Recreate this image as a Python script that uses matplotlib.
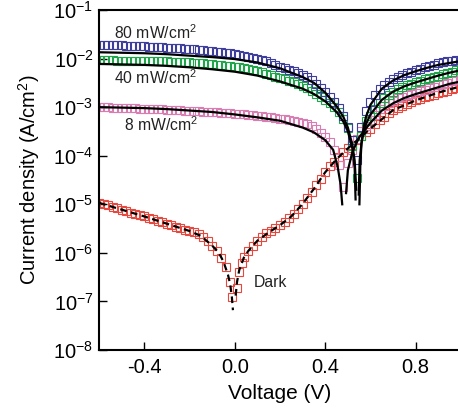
import numpy as np
import matplotlib
matplotlib.use('Agg')
import matplotlib.pyplot as plt
from matplotlib.ticker import FixedLocator, NullLocator, FixedFormatter

plt.rcParams['font.family'] = ['Liberation Sans', 'DejaVu Sans']
plt.rcParams['mathtext.fontset'] = 'custom'
plt.rcParams['mathtext.rm'] = 'Liberation Sans'
plt.rcParams['mathtext.it'] = 'Liberation Sans:italic'
plt.rcParams['mathtext.bf'] = 'Liberation Sans:bold'
plt.rcParams['mathtext.default'] = 'regular'
plt.rcParams['axes.unicode_minus'] = False

# ---------------- data (log10 of current density) ----------------
v_light = [-0.60, -0.58, -0.56, -0.54, -0.52, -0.50, -0.48, -0.46, -0.44, -0.42,
           -0.40, -0.38, -0.36, -0.34, -0.32, -0.30, -0.28, -0.26, -0.24, -0.22,
           -0.20, -0.18, -0.16, -0.14, -0.12, -0.10, -0.08, -0.06, -0.04, -0.02,
           0.00, 0.02, 0.04, 0.06, 0.08, 0.10, 0.12, 0.14, 0.16, 0.18,
           0.20, 0.22, 0.24, 0.26, 0.28, 0.30, 0.32, 0.34, 0.36, 0.38,
           0.40, 0.42, 0.44, 0.46, 0.48, 0.50, 0.52, 0.54, 0.56, 0.58,
           0.60, 0.62, 0.64, 0.66, 0.68, 0.70, 0.72, 0.74, 0.76, 0.78,
           0.80, 0.82, 0.84, 0.86, 0.88, 0.90, 0.92, 0.94, 0.96, 0.98,
           1.00]

log_j80 = [-1.72, -1.72, -1.72, -1.73, -1.73, -1.73, -1.74, -1.74, -1.74, -1.75,
           -1.75, -1.76, -1.76, -1.77, -1.77, -1.78, -1.78, -1.79, -1.79, -1.80,
           -1.81, -1.81, -1.82, -1.83, -1.84, -1.85, -1.86, -1.87, -1.88, -1.89,
           -1.91, -1.92, -1.94, -1.96, -1.98, -2.00, -2.03, -2.06, -2.09, -2.13,
           -2.17, -2.20, -2.23, -2.26, -2.29, -2.33, -2.38, -2.45, -2.52, -2.60,
           -2.69, -2.79, -2.90, -3.02, -3.18, -3.40, -3.68, -4.09, -3.40, -3.08,
           -2.90, -2.75, -2.63, -2.55, -2.48, -2.42, -2.37, -2.33, -2.30, -2.27,
           -2.24, -2.21, -2.18, -2.16, -2.13, -2.10, -2.08, -2.06, -2.05, -2.03,
           -2.02]

log_j40 = [-2.03, -2.03, -2.03, -2.03, -2.04, -2.04, -2.04, -2.04, -2.04, -2.05,
           -2.05, -2.05, -2.05, -2.06, -2.06, -2.06, -2.07, -2.07, -2.07, -2.08,
           -2.08, -2.09, -2.09, -2.10, -2.11, -2.12, -2.13, -2.14, -2.15, -2.16,
           -2.17, -2.18, -2.20, -2.21, -2.23, -2.25, -2.28, -2.31, -2.34, -2.37,
           -2.40, -2.43, -2.46, -2.49, -2.52, -2.56, -2.61, -2.67, -2.73, -2.79,
           -2.85, -2.92, -2.99, -3.10, -3.25, -3.42, -3.80, -4.46, -3.60, -3.28,
           -3.18, -3.03, -2.91, -2.82, -2.74, -2.68, -2.62, -2.58, -2.55, -2.52,
           -2.49, -2.46, -2.43, -2.40, -2.38, -2.35, -2.32, -2.29, -2.27, -2.24,
           -2.22]

log_j8 = [-3.00, -3.00, -3.00, -3.01, -3.01, -3.01, -3.02, -3.02, -3.02, -3.03,
          -3.03, -3.03, -3.04, -3.04, -3.04, -3.05, -3.05, -3.06, -3.06, -3.07,
          -3.07, -3.08, -3.08, -3.09, -3.10, -3.10, -3.11, -3.12, -3.12, -3.13,
          -3.14, -3.14, -3.15, -3.16, -3.17, -3.18, -3.19, -3.20, -3.21, -3.23,
          -3.24, -3.25, -3.27, -3.28, -3.30, -3.32, -3.35, -3.39, -3.45, -3.53,
          -3.62, -3.71, -3.88, -4.20, -4.64, -4.15, -3.88, -3.66, -3.50, -3.38,
          -3.27, -3.16, -3.04, -2.98, -2.92, -2.87, -2.82, -2.79, -2.76, -2.73,
          -2.70, -2.67, -2.64, -2.61, -2.58, -2.55, -2.52, -2.50, -2.47, -2.45,
          -2.43]

v_dark = [-0.60, -0.58, -0.56, -0.54, -0.52, -0.50, -0.48, -0.46, -0.44, -0.42,
          -0.40, -0.38, -0.36, -0.34, -0.32, -0.30, -0.28, -0.26, -0.24, -0.22,
          -0.20, -0.18, -0.16, -0.14, -0.12, -0.10, -0.08, -0.06, -0.04, -0.02,
          -0.01, 0.01, 0.02, 0.03, 0.04,
          0.06, 0.08, 0.10, 0.12, 0.14, 0.16, 0.18, 0.20, 0.22, 0.24,
          0.26, 0.28, 0.30, 0.32, 0.34, 0.36, 0.38, 0.40, 0.42, 0.44,
          0.46, 0.48, 0.50, 0.52, 0.54, 0.56, 0.58, 0.60, 0.62, 0.64,
          0.66, 0.68, 0.70, 0.72, 0.74, 0.76, 0.78, 0.80, 0.82, 0.84,
          0.86, 0.88, 0.90, 0.92, 0.94, 0.96, 0.98, 1.00]

log_jdark = [-4.97, -5.00, -5.02, -5.05, -5.08, -5.11, -5.14, -5.17, -5.20, -5.22,
             -5.25, -5.28, -5.31, -5.34, -5.37, -5.40, -5.43, -5.46, -5.49, -5.52,
             -5.55, -5.58, -5.62, -5.68, -5.76, -5.86, -5.97, -6.10, -6.30, -6.60,
             -6.91, -6.72, -6.40, -6.20, -6.08,
             -5.96, -5.85, -5.75, -5.67, -5.60, -5.54, -5.49, -5.43, -5.37, -5.29,
             -5.20, -5.10, -4.99, -4.87, -4.74, -4.61, -4.47, -4.34, -4.22, -4.12,
             -4.02, -3.93, -3.85, -3.77, -3.68, -3.60, -3.52, -3.44, -3.35, -3.27,
             -3.20, -3.13, -3.06, -3.01, -2.97, -2.93, -2.89, -2.86, -2.83, -2.80,
             -2.77, -2.74, -2.71, -2.68, -2.66, -2.63, -2.61, -2.59]

# fitted curves (two branches each, split at the open-circuit dip)
fit80_v_left = [-0.60, -0.50, -0.40, -0.30, -0.20, -0.10, 0.00, 0.10, 0.20, 0.30, 0.35, 0.40, 0.45, 0.48, 0.50, 0.52, 0.53, 0.537]
fit80_log_left = [-1.87, -1.88, -1.89, -1.91, -1.94, -1.97, -2.01, -2.08, -2.20, -2.38, -2.50, -2.70, -2.98, -3.20, -3.42, -3.78, -4.10, -4.70]
fit80_v_right = [0.551, 0.555, 0.56, 0.57, 0.58, 0.60, 0.65, 0.70, 0.75, 0.80, 0.85, 0.90, 0.95, 1.00]
fit80_log_right = [-5.00, -4.20, -3.75, -3.40, -3.20, -2.95, -2.62, -2.45, -2.34, -2.26, -2.19, -2.13, -2.09, -2.05]

fit40_v_left = [-0.60, -0.50, -0.40, -0.30, -0.20, -0.10, 0.00, 0.10, 0.20, 0.30, 0.35, 0.40, 0.45, 0.48, 0.50, 0.52, 0.53, 0.534]
fit40_log_left = [-2.11, -2.12, -2.13, -2.15, -2.18, -2.22, -2.27, -2.35, -2.47, -2.62, -2.73, -2.88, -3.10, -3.30, -3.50, -3.85, -4.25, -4.90]
fit40_v_right = [0.548, 0.552, 0.56, 0.57, 0.58, 0.60, 0.65, 0.70, 0.75, 0.80, 0.85, 0.90, 0.95, 1.00]
fit40_log_right = [-4.80, -4.10, -3.75, -3.50, -3.35, -3.15, -2.85, -2.68, -2.57, -2.49, -2.42, -2.35, -2.29, -2.24]

fit8_v_left = [-0.60, -0.50, -0.40, -0.30, -0.20, -0.10, 0.00, 0.10, 0.20, 0.30, 0.35, 0.40, 0.435, 0.455, 0.468, 0.475]
fit8_log_left = [-3.00, -3.01, -3.02, -3.04, -3.07, -3.10, -3.15, -3.21, -3.28, -3.42, -3.52, -3.68, -3.88, -4.23, -4.60, -5.00]
fit8_v_right = [0.492, 0.50, 0.52, 0.55, 0.60, 0.65, 0.70, 0.75, 0.80, 0.85, 0.90, 0.95, 1.00]
fit8_log_right = [-4.77, -4.30, -3.92, -3.62, -3.32, -3.07, -2.92, -2.81, -2.73, -2.66, -2.59, -2.52, -2.47]

fitd_v_left = [-0.60, -0.50, -0.40, -0.30, -0.20, -0.15, -0.10, -0.07, -0.05, -0.03, -0.02, -0.013, -0.008]
fitd_log_left = [-4.97, -5.11, -5.25, -5.40, -5.55, -5.65, -5.85, -6.00, -6.18, -6.45, -6.65, -6.90, -7.18]
fitd_v_right = [0.004, 0.01, 0.02, 0.04, 0.06, 0.10, 0.15, 0.20, 0.25, 0.30, 0.35, 0.40, 0.45, 0.50, 0.60, 0.70, 0.80, 0.90, 1.00]
fitd_log_right = [-6.88, -6.60, -6.35, -6.10, -5.96, -5.75, -5.58, -5.43, -5.25, -4.99, -4.68, -4.34, -4.07, -3.85, -3.44, -3.06, -2.86, -2.70, -2.57]

y_ticks = [1e-8, 1e-7, 1e-6, 1e-5, 1e-4, 1e-3, 1e-2, 1e-1]
y_tick_labels = ['$10^{-8}$', '$10^{-7}$', '$10^{-6}$', '$10^{-5}$',
                 '$10^{-4}$', '$10^{-3}$', '$10^{-2}$', '$10^{-1}$']
x_ticks = [-0.4, 0.0, 0.4, 0.8]
x_tick_labels = ['-0.4', '0.0', '0.4', '0.8']

# ---------------- figure ----------------
W, H = 458, 415
fig = plt.figure(figsize=(W / 100, H / 100), dpi=100)
ax = fig.add_axes([99 / W, (H - 350) / H, (461 - 99) / W, 340 / H])

def p10(a):
    return np.power(10.0, np.asarray(a, dtype=float))

mk = dict(marker='s', linestyle='none', markerfacecolor='none', markersize=5.2, markeredgewidth=0.8)
ax.plot(v_dark, p10(log_jdark), markeredgecolor='#e8473e', **mk)
ax.plot(v_light, p10(log_j8), markeredgecolor='#d87cb2', **mk)
ax.plot(v_light, p10(log_j40), markeredgecolor='#1ea54a', **mk)
ax.plot(v_light, p10(log_j80), markeredgecolor='#3d3d9e', **mk)

lw = 1.6
for vl, ll, vr, lr in [(fit80_v_left, fit80_log_left, fit80_v_right, fit80_log_right),
                       (fit40_v_left, fit40_log_left, fit40_v_right, fit40_log_right),
                       (fit8_v_left, fit8_log_left, fit8_v_right, fit8_log_right)]:
    ax.plot(vl, p10(ll), color='black', lw=lw)
    ax.plot(vr, p10(lr), color='black', lw=lw)
ax.plot(fitd_v_left, p10(fitd_log_left), color='black', lw=lw, linestyle=(0, (3, 2)))
ax.plot(fitd_v_right, p10(fitd_log_right), color='black', lw=lw, linestyle=(0, (3, 2)))

ax.set_yscale('log')
ax.set_xlim(-0.6, 1.0)
ax.set_ylim(1e-8, 1e-1)
ax.yaxis.set_major_locator(FixedLocator(y_ticks))
ax.yaxis.set_major_formatter(FixedFormatter(y_tick_labels))
ax.yaxis.set_minor_locator(NullLocator())
ax.xaxis.set_major_locator(FixedLocator(x_ticks))
ax.xaxis.set_major_formatter(FixedFormatter(x_tick_labels))
ax.xaxis.set_minor_locator(NullLocator())

for s in ['left', 'bottom', 'top']:
    ax.spines[s].set_linewidth(1.5)
ax.spines['right'].set_visible(False)
ax.tick_params(direction='in', length=5.5, width=1.0, labelsize=14.5, colors='black')
ax.tick_params(axis='x', pad=6)
ax.tick_params(axis='y', pad=4)
ax.tick_params(top=False, right=False)

ax.set_xlabel('Voltage (V)', fontsize=15, labelpad=5)
ax.set_ylabel('Current density (A/cm$^2$)', fontsize=14.5, labelpad=8)

fs = 11.3
ax.text(-0.532, 10 ** -1.474, '80 mW/cm$^2$', fontsize=fs, va='center', ha='left', color='#222222')
ax.text(-0.532, 10 ** -2.40, '40 mW/cm$^2$', fontsize=fs, va='center', ha='left', color='#222222')
ax.text(-0.488, 10 ** -3.37, '8 mW/cm$^2$', fontsize=fs, va='center', ha='left', color='#222222')
ax.text(0.0835, 10 ** -6.62, 'Dark', fontsize=fs, va='center', ha='left', color='#222222')

fig.savefig('out.png', dpi=100)
